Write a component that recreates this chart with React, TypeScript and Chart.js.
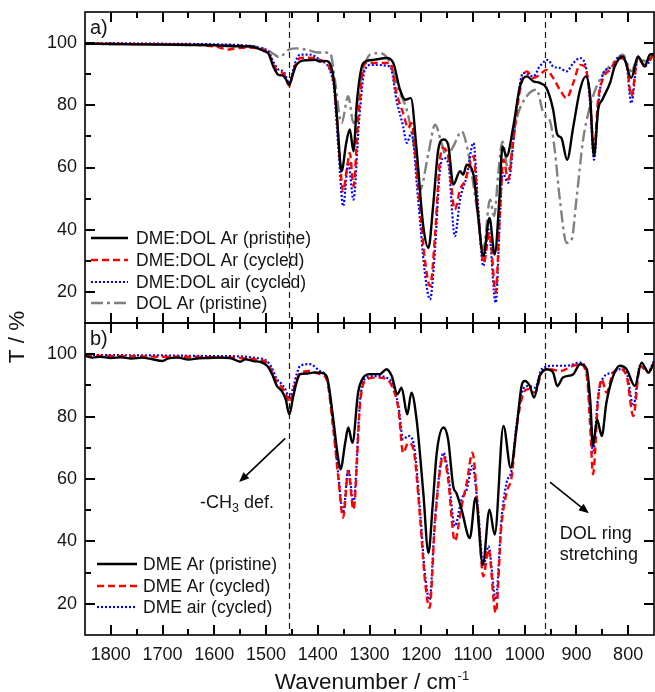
import React, { useEffect, useRef } from 'react';
import { Chart, registerables } from 'chart.js';

Chart.register(...registerables);

type Pt = [number, number];

// ---------------- axes ----------------
const X_MIN = 750;
const X_MAX = 1850;
const Y_MIN = 10;
const Y_MAX = 110;
const xTickLabels = [1800, 1700, 1600, 1500, 1400, 1300, 1200, 1100, 1000, 900, 800];
const yTickLabels = [20, 40, 60, 80, 100];
const markerLines = [1455, 960];

const panelALabels = ['DME:DOL Ar (pristine)', 'DME:DOL Ar (cycled)', 'DME:DOL air (cycled)', 'DOL Ar (pristine)'];
const panelBLabels = ['DME Ar (pristine)', 'DME Ar (cycled)', 'DME air (cycled)'];

// ---------------- panel a) : [wavenumber, T %] ----------------
const aDmeDolArPristine: Pt[] = [
  [1850, 99.8], [1800, 99.7], [1750, 99.6], [1700, 99.5], [1650, 99.4], [1600, 99.3], [1560, 99.0], [1530, 98.9],
  [1505, 97.5], [1495, 96.5], [1486, 92.5], [1476, 89.8], [1468, 89.6], [1462, 88.5], [1455, 86.6], [1449, 89.5],
  [1442, 92.8], [1434, 94.1], [1420, 94.5], [1405, 94.6], [1396, 94.1], [1385, 94.3], [1370, 89.3], [1363, 76.5],
  [1354, 58.8], [1345, 67.9], [1338, 72.2], [1331, 65.2], [1324, 81.8], [1312, 93.6], [1293, 94.6], [1267, 95.2],
  [1254, 93.6], [1241, 85.0], [1231, 81.8], [1220, 82.3], [1209, 65.8], [1196, 41.1], [1186, 34.2], [1177, 47.6],
  [1167, 65.8], [1157, 69.0], [1148, 67.4], [1138, 54.5], [1125, 58.8], [1119, 57.7], [1112, 60.9], [1099, 57.7],
  [1090, 44.4], [1080, 31.5], [1068, 43.8], [1058, 32.0], [1049, 49.7], [1043, 66.8], [1035, 63.6], [1022, 73.2],
  [1009, 86.1], [996, 89.3], [983, 87.7], [971, 87.2], [958, 85.6], [945, 78.6], [937, 70.6], [929, 69.5],
  [918, 62.5], [906, 73.2], [893, 85.0], [882, 89.3], [874, 83.9], [866, 63.6], [858, 78.6], [850, 81.8],
  [835, 87.2], [826, 92.5], [810, 95.7], [794, 88.8], [781, 95.7], [768, 92.5], [758, 96.3], [750, 96.5],
];
const aDmeDolArCycled: Pt[] = [
  [1850, 99.9], [1800, 99.8], [1750, 99.7], [1700, 99.6], [1650, 99.5], [1620, 99.3], [1590, 98.6], [1576, 97.9],
  [1560, 98.3], [1540, 98.6], [1520, 98.4], [1505, 97.8], [1495, 96.8], [1486, 93.0], [1476, 90.9], [1466, 90.2],
  [1455, 86.3], [1449, 89.8], [1442, 93.5], [1434, 95.2], [1415, 95.3], [1396, 94.6], [1370, 88.2], [1360, 69.0],
  [1351, 52.4], [1344, 59.3], [1338, 64.7], [1331, 54.0], [1322, 75.4], [1309, 93.6], [1286, 93.6], [1260, 93.6],
  [1248, 84.0], [1235, 77.5], [1225, 72.7], [1219, 74.3], [1206, 54.0], [1193, 30.4], [1183, 21.9], [1173, 39.0],
  [1165, 60.4], [1159, 66.3], [1148, 63.6], [1135, 46.5], [1125, 52.9], [1116, 55.6], [1099, 63.6], [1090, 45.4],
  [1079, 29.4], [1068, 39.0], [1056, 19.7], [1048, 45.4], [1041, 62.5], [1032, 56.1], [1022, 69.0], [1009, 85.0],
  [996, 90.9], [983, 88.8], [971, 89.8], [958, 91.4], [945, 88.8], [932, 85.0], [919, 82.3], [906, 87.2],
  [893, 93.0], [884, 92.5], [874, 82.9], [866, 65.8], [858, 81.8], [848, 88.8], [835, 91.4], [816, 95.2],
  [803, 93.6], [794, 82.9], [781, 95.2], [768, 93.0], [750, 96.4],
];
const aDmeDolAirCycled: Pt[] = [
  [1850, 99.9], [1800, 99.9], [1700, 99.8], [1600, 99.6], [1540, 99.2], [1510, 98.4], [1495, 97.2], [1486, 94.0],
  [1476, 91.5], [1466, 90.8], [1455, 87.2], [1449, 90.5], [1442, 94.5], [1434, 96.3], [1415, 96.3], [1396, 94.6],
  [1370, 87.2], [1360, 65.8], [1351, 47.6], [1341, 61.5], [1331, 49.7], [1320, 75.4], [1309, 91.4], [1296, 93.0],
  [1260, 92.5], [1248, 81.8], [1235, 73.2], [1228, 67.9], [1219, 71.1], [1206, 49.7], [1193, 26.2], [1183, 17.6],
  [1173, 34.7], [1165, 57.2], [1157, 63.1], [1148, 61.5], [1135, 37.9], [1125, 49.7], [1112, 57.2], [1099, 67.9],
  [1090, 47.6], [1080, 28.3], [1070, 40.1], [1056, 16.5], [1048, 43.3], [1043, 58.3], [1032, 55.1], [1016, 78.6],
  [1003, 90.4], [983, 89.3], [971, 92.5], [955, 94.6], [945, 92.5], [932, 92.0], [919, 90.9], [906, 93.6],
  [893, 95.2], [880, 90.9], [873, 79.7], [866, 62.5], [858, 79.7], [848, 90.4], [835, 92.0], [816, 95.7],
  [803, 93.0], [794, 80.7], [781, 95.2], [768, 92.5], [750, 96.8],
];
const aDolArPristine: Pt[] = [
  [1850, 99.8], [1800, 99.7], [1700, 99.6], [1600, 99.4], [1540, 99.2], [1510, 98.5], [1495, 97.5], [1485, 96.5],
  [1475, 95.5], [1465, 96.5], [1455, 98.0], [1440, 98.3], [1420, 97.8], [1400, 97.0], [1376, 96.8], [1367, 88.2],
  [1354, 74.3], [1341, 82.9], [1331, 74.3], [1318, 87.2], [1299, 96.3], [1280, 96.8], [1260, 93.6], [1244, 85.0],
  [1228, 78.6], [1215, 67.9], [1202, 52.9], [1186, 64.7], [1173, 73.8], [1161, 67.9], [1151, 63.6], [1138, 66.8],
  [1122, 71.6], [1109, 64.7], [1093, 47.6], [1080, 33.7], [1067, 49.7], [1059, 44.4], [1051, 58.3], [1043, 68.4],
  [1032, 59.3], [1016, 75.4], [996, 82.9], [977, 85.0], [964, 77.5], [951, 74.9], [942, 65.8], [932, 49.7],
  [919, 35.8], [909, 36.9], [900, 49.7], [887, 69.0], [877, 77.5], [868, 82.9], [855, 88.2], [842, 91.4],
  [829, 93.6], [810, 96.3], [794, 90.9], [781, 95.2], [765, 94.1], [750, 96.8],
];

// ---------------- panel b) : [wavenumber, T %] ----------------
const bDmeArPristine: Pt[] = [
  [1850, 99.5], [1835, 98.9], [1820, 99.2], [1800, 98.8], [1780, 99.0], [1760, 98.6], [1740, 98.9], [1720, 98.4],
  [1700, 97.8], [1690, 98.6], [1670, 98.9], [1650, 98.3], [1630, 98.7], [1610, 98.8], [1590, 98.9], [1570, 98.8],
  [1550, 97.6], [1540, 98.4], [1525, 97.8], [1510, 97.5], [1498, 96.3], [1488, 93.5], [1479, 89.8], [1470, 88.3],
  [1462, 85.5], [1455, 80.7], [1448, 86.0], [1440, 91.5], [1434, 93.6], [1420, 93.8], [1410, 94.1], [1396, 94.1],
  [1383, 93.0], [1370, 79.1], [1363, 69.5], [1356, 63.1], [1347, 71.6], [1341, 76.5], [1333, 71.6], [1322, 87.7],
  [1312, 92.5], [1299, 93.6], [1280, 93.6], [1267, 95.2], [1257, 93.0], [1246, 87.2], [1238, 89.3], [1227, 80.7],
  [1219, 87.7], [1209, 79.1], [1196, 55.6], [1186, 36.3], [1178, 51.3], [1170, 68.4], [1157, 76.5], [1148, 72.7],
  [1138, 57.5], [1132, 55.5], [1122, 50.2], [1106, 41.1], [1095, 54.0], [1081, 32.6], [1068, 50.2], [1058, 42.2],
  [1041, 77.0], [1027, 63.6], [1016, 75.9], [1006, 89.8], [1000, 91.4], [990, 89.8], [982, 86.1], [971, 93.0],
  [958, 95.2], [945, 94.1], [937, 89.8], [926, 92.5], [906, 93.6], [893, 96.8], [880, 95.2], [873, 84.5],
  [868, 70.6], [860, 79.1], [851, 73.8], [842, 84.5], [829, 93.0], [816, 96.3], [803, 95.2], [787, 89.8],
  [774, 97.3], [761, 94.1], [750, 97.3],
];
const bDmeArCycled: Pt[] = [
  [1850, 99.6], [1800, 99.4], [1750, 99.3], [1700, 99.2], [1650, 99.2], [1600, 99.0], [1550, 98.8], [1520, 98.3],
  [1500, 97.5], [1490, 95.0], [1479, 91.0], [1470, 89.5], [1462, 87.5], [1455, 84.5], [1448, 88.0], [1440, 92.0],
  [1434, 94.1], [1415, 94.6], [1396, 93.6], [1383, 92.0], [1370, 75.9], [1360, 59.9], [1351, 47.6], [1341, 62.5],
  [1331, 50.2], [1318, 84.5], [1305, 92.0], [1286, 92.5], [1267, 92.0], [1257, 89.8], [1244, 82.3], [1235, 68.4],
  [1225, 71.6], [1215, 69.5], [1202, 47.0], [1193, 27.8], [1184, 18.7], [1173, 47.0], [1157, 67.4], [1148, 59.9],
  [1135, 40.1], [1122, 51.3], [1112, 58.8], [1101, 68.4], [1090, 49.2], [1080, 28.8], [1070, 37.4], [1056, 17.1],
  [1045, 44.9], [1035, 55.6], [1025, 60.9], [1016, 75.9], [1003, 87.2], [993, 88.8], [980, 87.7], [967, 94.1],
  [951, 95.2], [932, 94.6], [906, 96.3], [893, 96.8], [880, 93.0], [873, 75.9], [868, 61.5], [858, 85.6],
  [851, 92.0], [842, 87.7], [829, 94.1], [816, 95.2], [803, 93.0], [790, 80.2], [777, 96.3], [761, 94.1],
  [750, 97.3],
];
const bDmeAirCycled: Pt[] = [
  [1850, 99.8], [1800, 99.7], [1700, 99.6], [1600, 99.4], [1550, 99.3], [1520, 98.8], [1500, 98.0], [1490, 96.0],
  [1479, 92.0], [1470, 90.5], [1462, 88.5], [1455, 85.6], [1448, 89.0], [1440, 94.0], [1434, 96.3], [1415, 96.8],
  [1396, 94.6], [1383, 92.5], [1370, 77.0], [1360, 60.9], [1351, 49.2], [1341, 63.1], [1331, 52.4], [1318, 85.6],
  [1305, 92.5], [1286, 93.0], [1267, 92.5], [1257, 90.9], [1244, 83.4], [1235, 72.7], [1225, 73.8], [1215, 71.6],
  [1202, 49.2], [1193, 29.9], [1184, 21.3], [1173, 48.1], [1157, 68.4], [1148, 62.0], [1135, 44.9], [1122, 53.5],
  [1112, 56.7], [1101, 64.2], [1090, 50.2], [1080, 32.0], [1070, 38.5], [1056, 21.3], [1045, 47.0], [1035, 58.8],
  [1025, 63.1], [1016, 77.0], [1003, 88.8], [993, 89.8], [980, 89.3], [967, 95.2], [945, 96.3], [919, 96.3],
  [893, 97.3], [880, 94.1], [873, 80.2], [868, 68.4], [858, 86.6], [848, 92.5], [829, 94.1], [816, 95.2],
  [803, 94.1], [790, 83.4], [777, 96.3], [761, 94.6], [750, 97.9],
];

// annotation anchors in data units (wavenumber, T)
const ch3Arrow: [Pt, Pt] = [[1463, 73], [1552, 59]];
const ch3Text: Pt = [1556, 50.7];
const dolArrow: [Pt, Pt] = [[951, 59], [876, 49]];
const dolText1: Pt = [932, 40.8];
const dolText2: Pt = [932, 34.1];

// ---------------- look ----------------
const W = 655;
const H = 692;
const FONT = "'Liberation Sans', Arial, Helvetica, sans-serif";
const INK = '#141414';

const STYLE = {
  solid: { borderColor: '#000000', borderWidth: 2.4, borderDash: [] as number[] },
  dashed: { borderColor: '#ff0000', borderWidth: 2.4, borderDash: [7, 4] },
  dotted: { borderColor: '#0000ff', borderWidth: 2.2, borderDash: [2, 2] },
  dashDot: { borderColor: '#808080', borderWidth: 2.4, borderDash: [12, 4, 3, 4] },
};

function toDataset(label: string, pts: Pt[], style: any) {
  return {
    label,
    data: pts.map(([x, y]) => ({ x, y })),
    ...style,
    pointRadius: 0,
    fill: false,
    cubicInterpolationMode: 'monotone',
    borderCapStyle: 'butt',
    borderJoinStyle: 'round',
  };
}

function seg(ctx: CanvasRenderingContext2D, x1: number, y1: number, x2: number, y2: number) {
  ctx.beginPath();
  ctx.moveTo(x1, y1);
  ctx.lineTo(x2, y2);
  ctx.stroke();
}

function drawInwardTicks(chart: any) {
  const { ctx, chartArea: a, scales } = chart;
  ctx.save();
  ctx.setLineDash([]);
  ctx.globalAlpha = 1;
  ctx.globalCompositeOperation = 'source-over';
  ctx.strokeStyle = '#000000';
  ctx.lineWidth = 2;
  const MJ = 10;
  const MN = 6;
  ctx.beginPath();
  for (let i = 0; i < xTickLabels.length; i++) {
    const v = xTickLabels[i];
    const px = Math.round(scales.x.getPixelForValue(v));
    ctx.moveTo(px, a.bottom);
    ctx.lineTo(px, a.bottom - MJ);
    ctx.moveTo(px, a.top);
    ctx.lineTo(px, a.top + MJ);
    const pm = Math.round(scales.x.getPixelForValue(v + 50));
    if (pm > a.left + 2 && pm < a.right - 2) {
      ctx.moveTo(pm, a.bottom);
      ctx.lineTo(pm, a.bottom - MN);
      ctx.moveTo(pm, a.top);
      ctx.lineTo(pm, a.top + MN);
    }
  }
  for (let i = 0; i < yTickLabels.length; i++) {
    const v = yTickLabels[i];
    const py = Math.round(scales.y.getPixelForValue(v));
    ctx.moveTo(a.left, py);
    ctx.lineTo(a.left + MJ, py);
    ctx.moveTo(a.right, py);
    ctx.lineTo(a.right - MJ, py);
    const pm = Math.round(scales.y.getPixelForValue(v - 10));
    if (pm < a.bottom - 2) {
      ctx.moveTo(a.left, pm);
      ctx.lineTo(a.left + MN, pm);
      ctx.moveTo(a.right, pm);
      ctx.lineTo(a.right - MN, pm);
    }
  }
  ctx.stroke();
  ctx.restore();
}

function makeFramePlugin(panelLabel: string) {
  return {
    id: 'frame' + panelLabel.charAt(0),
    beforeDatasetsDraw(chart: any) {
      const { ctx, chartArea: a, scales } = chart;
      ctx.save();
      ctx.beginPath();
      ctx.rect(a.left, a.top, a.right - a.left, a.bottom - a.top);
      ctx.clip();
      ctx.strokeStyle = '#1a1a1a';
      ctx.lineWidth = 1.2;
      ctx.setLineDash([6, 4]);
      for (const w of markerLines) {
        const px = Math.round(scales.x.getPixelForValue(w)) + 0.5;
        seg(ctx, px, a.top, px, a.bottom);
      }
      ctx.restore();
    },
    afterDatasetsDraw(chart: any) {
      drawInwardTicks(chart);
    },
    afterDraw(chart: any) {
      const { ctx, chartArea: a } = chart;
      drawInwardTicks(chart);
      ctx.save();
      ctx.setLineDash([]);
      ctx.strokeStyle = '#000';
      ctx.lineWidth = 1.6;
      ctx.strokeRect(a.left, a.top, a.right - a.left, a.bottom - a.top);
      // panel label
      ctx.fillStyle = INK;
      ctx.font = `20px ${FONT}`;
      ctx.textAlign = 'left';
      ctx.textBaseline = 'alphabetic';
      ctx.fillText(panelLabel, a.left + 5, a.top + 22);
      ctx.restore();
    },
  };
}

function makeLegendPlugin(lineX0: number, lineX1: number, textX: number, rows: number[]) {
  return {
    id: 'panelLegend',
    afterDatasetsDraw(chart: any) {
      const { ctx } = chart;
      ctx.save();
      chart.data.datasets.forEach((ds: any, i: number) => {
        const y = rows[i];
        ctx.strokeStyle = ds.borderColor;
        ctx.lineWidth = ds.borderWidth;
        ctx.setLineDash(ds.borderDash || []);
        seg(ctx, lineX0, y, lineX1, y);
        ctx.setLineDash([]);
        ctx.fillStyle = INK;
        ctx.font = `17.5px ${FONT}`;
        ctx.textAlign = 'left';
        ctx.textBaseline = 'middle';
        ctx.fillText(ds.label, textX, y + 1);
      });
      ctx.restore();
    },
  };
}

function arrow(ctx: CanvasRenderingContext2D, x1: number, y1: number, x2: number, y2: number) {
  const ang = Math.atan2(y2 - y1, x2 - x1);
  const L = 10;
  const Wd = 4.2;
  const c = Math.cos(ang);
  const s = Math.sin(ang);
  seg(ctx, x1, y1, x2 - c * L * 0.7, y2 - s * L * 0.7);
  ctx.beginPath();
  ctx.moveTo(x2, y2);
  ctx.lineTo(x2 - L * c + Wd * s, y2 - L * s - Wd * c);
  ctx.lineTo(x2 - L * c - Wd * s, y2 - L * s + Wd * c);
  ctx.closePath();
  ctx.fill();
}

const annotationPlugin = {
  id: 'annotations',
  afterDraw(chart: any) {
    const { ctx, scales } = chart;
    const X = (v: number) => scales.x.getPixelForValue(v);
    const Y = (v: number) => scales.y.getPixelForValue(v);
    ctx.save();
    ctx.strokeStyle = '#000';
    ctx.fillStyle = '#000';
    ctx.lineWidth = 1.6;
    arrow(ctx, X(ch3Arrow[0][0]), Y(ch3Arrow[0][1]), X(ch3Arrow[1][0]), Y(ch3Arrow[1][1]));
    arrow(ctx, X(dolArrow[0][0]), Y(dolArrow[0][1]), X(dolArrow[1][0]), Y(dolArrow[1][1]));

    ctx.fillStyle = INK;
    ctx.textBaseline = 'alphabetic';
    ctx.textAlign = 'left';
    // "-CH3 def." with subscript
    const big = `18px ${FONT}`;
    const small = `12.5px ${FONT}`;
    ctx.font = big;
    const p1 = '-CH';
    const p3 = ' def.';
    const w1 = ctx.measureText(p1).width;
    const w3 = ctx.measureText(p3).width;
    ctx.font = small;
    const w2 = ctx.measureText('3').width;
    const total = w1 + w2 + w3;
    let x = X(ch3Text[0]) - total / 2;
    const y = Y(ch3Text[1]);
    ctx.font = big;
    ctx.fillText(p1, x, y);
    x += w1;
    ctx.font = small;
    ctx.fillText('3', x, y + 4);
    x += w2;
    ctx.font = big;
    ctx.fillText(p3, x, y);

    ctx.fillText('DOL ring', X(dolText1[0]), Y(dolText1[1]));
    ctx.fillText('stretching', X(dolText2[0]), Y(dolText2[1]));

    // axis titles
    ctx.font = `22.5px ${FONT}`;
    ctx.save();
    ctx.translate(24, 337);
    ctx.rotate(-Math.PI / 2);
    ctx.textAlign = 'center';
    ctx.fillText('T / %', 0, 0);
    ctx.restore();

    const main = 'Wavenumber / cm';
    const sup = '-1';
    ctx.font = `22.5px ${FONT}`;
    const wm = ctx.measureText(main).width;
    ctx.font = `13px ${FONT}`;
    const ws = ctx.measureText(sup).width;
    const cx = (chart.chartArea.left + chart.chartArea.right) / 2 + 2;
    const sx = cx - (wm + ws) / 2;
    ctx.textAlign = 'left';
    ctx.font = `22.5px ${FONT}`;
    ctx.fillText(main, sx, 689);
    ctx.font = `13px ${FONT}`;
    ctx.fillText(sup, sx + wm + 1, 680);
    ctx.restore();
  },
};

function makeOptions(showX: boolean, padTop: number, padBottom: number) {
  return {
    responsive: false,
    maintainAspectRatio: false,
    animation: false,
    devicePixelRatio: 1,
    events: [],
    layout: { padding: { left: 0, right: 1, top: padTop, bottom: padBottom } },
    plugins: { legend: { display: false }, tooltip: { enabled: false }, title: { display: false } },
    scales: {
      x: {
        type: 'linear',
        min: X_MIN,
        max: X_MAX,
        reverse: true,
        display: showX,
        grid: { display: false, drawTicks: false },
        border: { display: false },
        afterBuildTicks: (s: any) => {
          s.ticks = xTickLabels.map((v) => ({ value: v }));
        },
        ticks: {
          padding: 9,
          autoSkip: false,
          maxRotation: 0,
          color: INK,
          font: { family: FONT, size: 18 },
          callback: (v: any) => String(v),
        },
        afterFit: (s: any) => {
          s.height = showX ? 57 : 0;
          s.paddingLeft = 0;
          s.paddingRight = 0;
        },
      },
      y: {
        type: 'linear',
        min: Y_MIN,
        max: Y_MAX,
        grid: { display: false, drawTicks: false },
        border: { display: false },
        afterBuildTicks: (s: any) => {
          s.ticks = yTickLabels.map((v) => ({ value: v }));
        },
        ticks: {
          padding: 8,
          color: INK,
          font: { family: FONT, size: 18 },
          callback: (v: any) => String(v),
        },
        afterFit: (s: any) => {
          s.width = 85;
          s.paddingTop = 0;
          s.paddingBottom = 0;
        },
      },
    },
  };
}

export default function App() {
  const refA = useRef<HTMLCanvasElement | null>(null);
  const refB = useRef<HTMLCanvasElement | null>(null);

  useEffect(() => {
    document.body.style.margin = '0';
    const chartA = new Chart(refA.current as HTMLCanvasElement, {
      type: 'line',
      data: {
        datasets: [
          toDataset(panelALabels[0], aDmeDolArPristine, STYLE.solid),
          toDataset(panelALabels[1], aDmeDolArCycled, STYLE.dashed),
          toDataset(panelALabels[2], aDmeDolAirCycled, STYLE.dotted),
          toDataset(panelALabels[3], aDolArPristine, STYLE.dashDot),
        ],
      } as any,
      options: makeOptions(false, 12, H - 323) as any,
      plugins: [makeFramePlugin('a)'), makeLegendPlugin(91, 128, 136, [238, 260, 282, 303])],
    });
    const chartB = new Chart(refB.current as HTMLCanvasElement, {
      type: 'line',
      data: {
        datasets: [
          toDataset(panelBLabels[0], bDmeArPristine, STYLE.solid),
          toDataset(panelBLabels[1], bDmeArCycled, STYLE.dashed),
          toDataset(panelBLabels[2], bDmeAirCycled, STYLE.dotted),
        ],
      } as any,
      options: makeOptions(true, 323, 0) as any,
      plugins: [makeFramePlugin('b)'), makeLegendPlugin(97, 137, 143, [564, 586, 607]), annotationPlugin],
    });
    return () => {
      chartA.destroy();
      chartB.destroy();
    };
  }, []);

  const cs: React.CSSProperties = { position: 'absolute', left: 0, top: 0, width: W, height: H };
  return (
    <div style={{ position: 'absolute', left: 0, top: 0, width: W, height: H, background: '#fff' }}>
      <canvas ref={refA} width={W} height={H} style={cs} />
      <canvas ref={refB} width={W} height={H} style={cs} />
    </div>
  );
}
